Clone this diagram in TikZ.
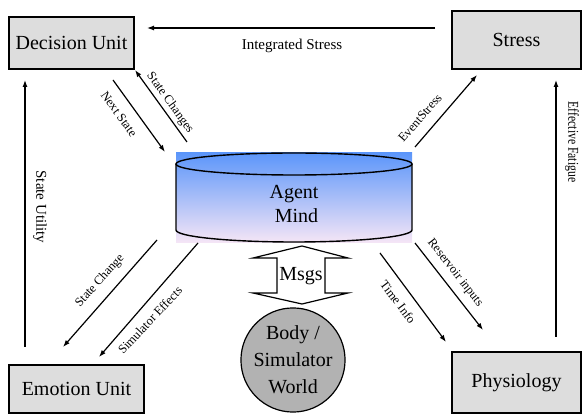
\documentclass[tikz,border=0pt]{standalone}
\usepackage{fontspec}
\setmainfont{Liberation Serif}
\usetikzlibrary{arrows.meta}
\definecolor{boxgray}{RGB}{221,221,221}
\definecolor{topblue}{RGB}{92,150,250}
\definecolor{botpink}{RGB}{246,230,246}
\definecolor{worldgray}{RGB}{178,178,178}
\begin{document}
\begin{tikzpicture}[x=1pt,y=-1pt,
  unitbox/.style={draw,line width=1.4pt,fill=boxgray,inner sep=0pt,font=\fontsize{20}{24}\selectfont},
  conn/.style={line width=1.2pt,-{Latex[length=7pt,width=5pt]}},
  difflabel/.style={font=\fontsize{12.5}{14}\selectfont,inner sep=0pt},
  sidelabel/.style={font=\fontsize{15}{18}\selectfont,inner sep=0pt}]
\useasboundingbox (0,0) rectangle (582,414);
% boxes
\node[unitbox,minimum width=125pt,minimum height=52pt] (dec) at (71.5,43) {Decision Unit};
\node[unitbox,minimum width=129pt,minimum height=58pt] (str) at (516.5,40) {Stress};
\node[unitbox,minimum width=135pt,minimum height=48pt] (emo) at (76.5,389) {Emotion Unit};
\node[unitbox,minimum width=129pt,minimum height=61pt] (phy) at (516.5,382.5) {Physiology};
% agent mind cylinder
\shade[top color=topblue,bottom color=botpink] (176,153) rectangle (412,243);
\draw[line width=1.4pt] (176,164) -- (176,230) arc[start angle=180,end angle=360,x radius=118pt,y radius=12pt] -- (412,164);
\draw[line width=1.4pt] (294,164) ellipse[x radius=118pt,y radius=11pt];
\node[font=\fontsize{20}{24}\selectfont,align=center] (mind) at (294,204) {Agent\\\ Mind};
% world
\node[circle,draw,line width=1.2pt,fill=worldgray,minimum size=100pt,inner sep=0pt,
  font=\fontsize{20}{27}\selectfont,align=center] (world) at (293,360) {Body /\\Simulator\\World};
% msgs double arrow
\draw[line width=1.2pt,fill=white] (302,246) -- (348,258) -- (325,258) -- (325,293) -- (348,293)
  -- (302,304) -- (253,293) -- (277,293) -- (277,258) -- (253,258) -- cycle;
\node[font=\fontsize{20}{24}\selectfont,inner sep=0pt] (msgs) at (301,276) {Msgs};
% connector end points
\coordinate (isA) at (435,28);  \coordinate (isB) at (147,28);
\coordinate (nsA) at (113,80);  \coordinate (nsB) at (165,152);
\coordinate (scA) at (187,142); \coordinate (scB) at (135,70);
\coordinate (esA) at (415,147); \coordinate (esB) at (477,75);
\coordinate (efA) at (556,337); \coordinate (efB) at (556,80);
\coordinate (suA) at (25,347);  \coordinate (suB) at (25,80);
\coordinate (chA) at (157,240); \coordinate (chB) at (63,347);
\coordinate (seA) at (198,243); \coordinate (seB) at (99,357);
\coordinate (tiA) at (380,253); \coordinate (tiB) at (446,342);
\coordinate (riA) at (415,243); \coordinate (riB) at (483,330);
\draw[conn] (isA) -- (isB);
\draw[conn] (nsA) -- (nsB);
\draw[conn] (scA) -- (scB);
\draw[conn] (esA) -- (esB);
\draw[conn] (efA) -- (efB);
\draw[conn] (suA) -- (suB);
\draw[conn] (chA) -- (chB);
\draw[conn] (seA) -- (seB);
\draw[conn] (tiA) -- (tiB);
\draw[conn] (riA) -- (riB);
% labels
\node[sidelabel] (lis) at (292,46) {Integrated Stress};
\node[difflabel,rotate=-54] (lns) at (119,114) {Next State};
\node[difflabel,rotate=-54] (lsc) at (170,103) {State Changes};
\node[difflabel,rotate=49] (les) at (420,118) {EventStress};
\node[sidelabel,rotate=-90] (lef) at (572,142) {\scalebox{0.78}[1]{Effective Fatigue}};
\node[sidelabel,rotate=-90] (lsu) at (40,207) {State Utility};
\node[difflabel,rotate=48] (lch) at (100,281) {State Change};
\node[difflabel,rotate=47] (lse) at (150,320) {Simulator Effects};
\node[difflabel,rotate=-53] (lti) at (398,302) {Time Info};
\node[difflabel,rotate=-52] (lri) at (455,273) {Reservoir inputs};
\end{tikzpicture}
\end{document}
